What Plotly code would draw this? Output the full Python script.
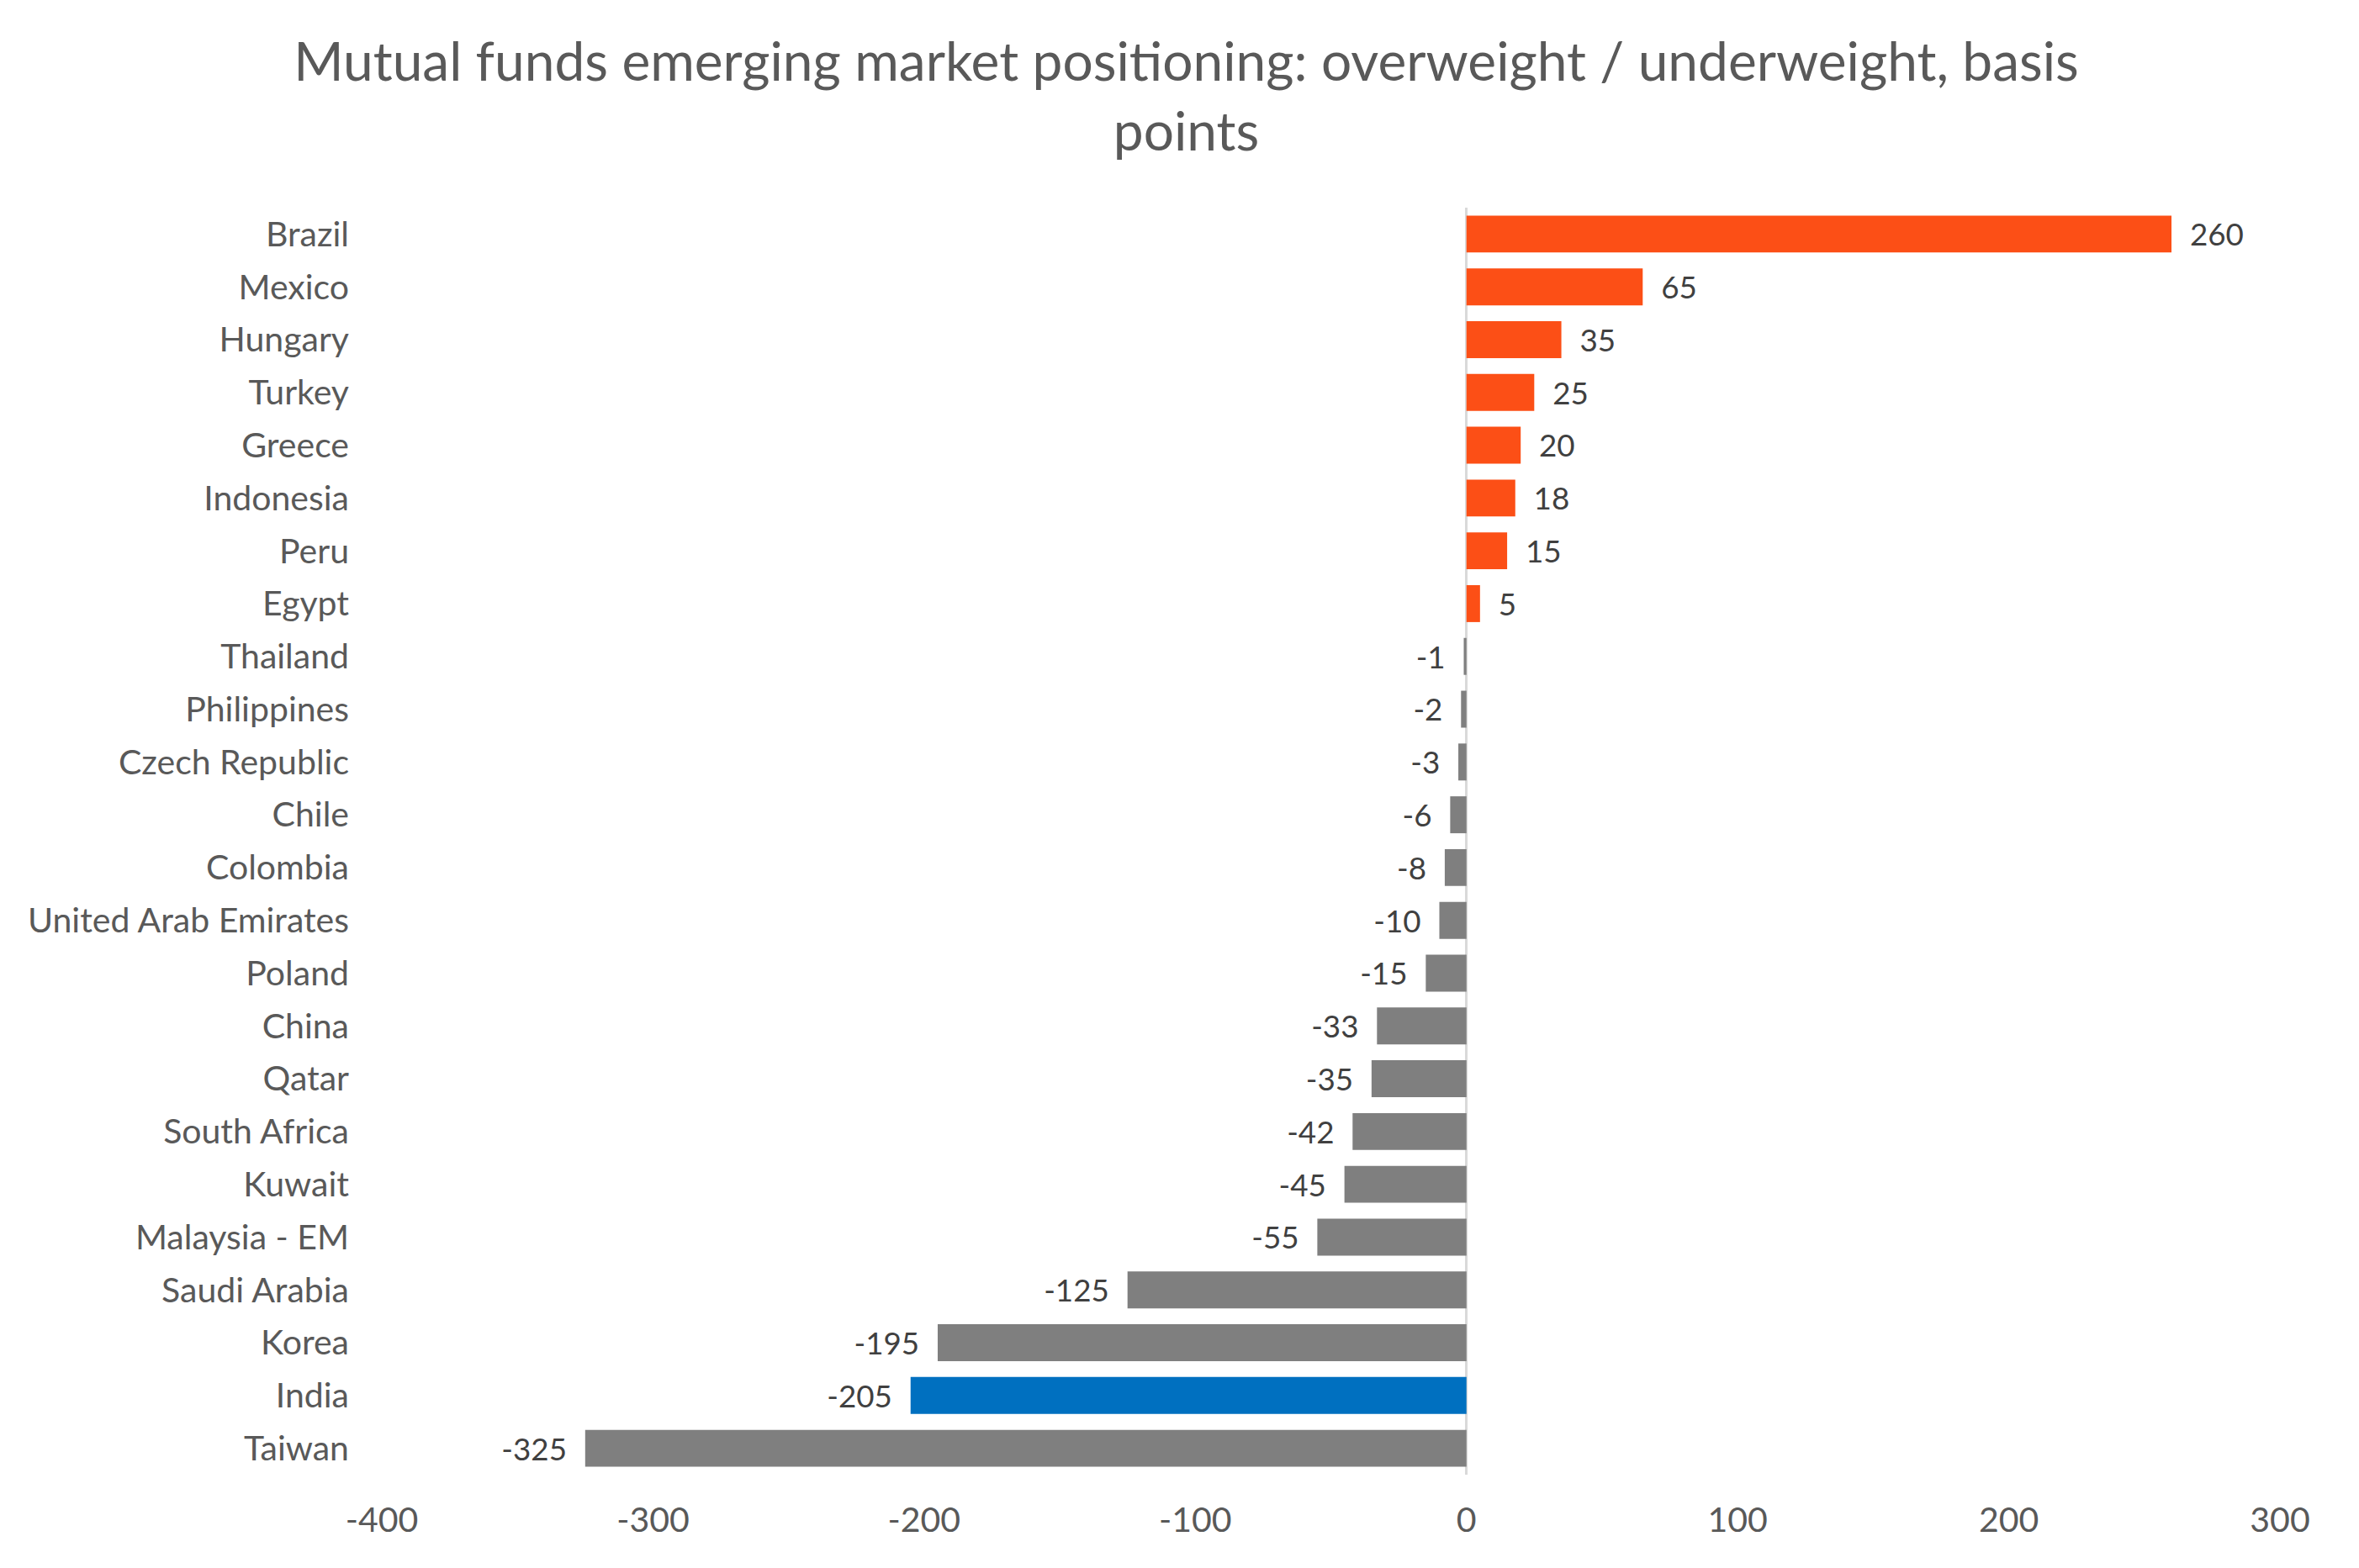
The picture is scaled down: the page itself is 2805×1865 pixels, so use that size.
import plotly.graph_objects as go

# positioning in basis points, top to bottom as in the chart
countries = ['Brazil', 'Mexico', 'Hungary', 'Turkey', 'Greece', 'Indonesia', 'Peru',
             'Egypt', 'Thailand', 'Philippines', 'Czech Republic', 'Chile', 'Colombia',
             'United Arab Emirates', 'Poland', 'China', 'Qatar', 'South Africa', 'Kuwait',
             'Malaysia - EM', 'Saudi Arabia', 'Korea', 'India', 'Taiwan']
bps = [260, 65, 35, 25, 20, 18, 15, 5, -1, -2, -3, -6, -8, -10, -15, -33, -35, -42,
       -45, -55, -125, -195, -205, -325]
x_ticks = [-400, -300, -200, -100, 0, 100, 200, 300]
x_tick_labels = ['-400', '-300', '-200', '-100', '0', '100', '200', '300']

ORANGE = '#FC4F16'
GREY = '#7F7F7F'
BLUE = '#0070C0'
TEXT = '#595959'

colors = []
labels = []
for c, v in zip(countries, bps):
    if c == 'India':
        colors.append(BLUE)
    elif v > 0:
        colors.append(ORANGE)
    else:
        colors.append(GREY)
    # pad the data labels away from the bar ends, like excel does
    if v > 0:
        labels.append('\u00a0\u00a0' + str(v))
    else:
        labels.append(str(v) + '\u00a0\u00a0')

fig = go.Figure()
fig.add_trace(
    go.Bar(
        y=countries,
        x=bps,
        orientation='h',
        marker=dict(color=colors, line=dict(width=0)),
        text=labels,
        textposition='outside',
        textfont=dict(size=41, color='#404040'),
        cliponaxis=False,
    )
)
fig.update_yaxes(
    autorange='reversed',
    showgrid=False,
    showline=False,
    ticks='',
    ticklabelstandoff=38,
    tickfont=dict(size=41, color=TEXT),
)
fig.update_xaxes(
    range=[-400, 300],
    tickvals=x_ticks,
    ticktext=x_tick_labels,
    showgrid=False,
    zeroline=True,
    zerolinecolor='#D9D9D9',
    zerolinewidth=3,
    showline=False,
    ticks='',
    ticklabelstandoff=26,
    tickfont=dict(size=41, color=TEXT),
)
fig.update_layout(
    width=2805,
    height=1865,
    title=dict(
        text='Mutual funds emerging market positioning: overweight / underweight, basis<br>points',
        x=0.5,
        xanchor='center',
        y=0.953,
        yanchor='top',
        font=dict(size=64, color=TEXT),
    ),
    font=dict(family='Lato, sans-serif', color=TEXT),
    bargap=0.3,
    showlegend=False,
    plot_bgcolor='white',
    paper_bgcolor='white',
    margin=dict(l=446, r=102, t=239, b=119),
)
fig.write_html('out.html')
